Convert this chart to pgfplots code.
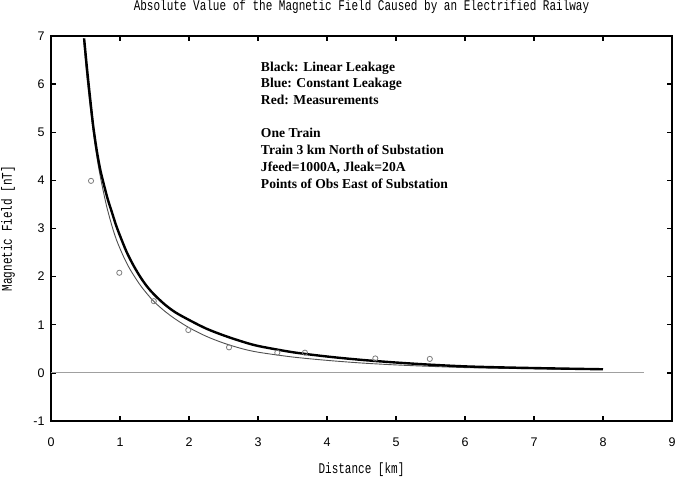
\documentclass[border=0pt]{standalone}
\usepackage{fontspec}
\setmainfont{Liberation Serif}
\setsansfont{Liberation Sans}
\setmonofont{Liberation Mono}
\usepackage{pgfplots}
\pgfplotsset{compat=1.18}
\definecolor{zeroline}{RGB}{160,160,160}
\definecolor{constleak}{RGB}{80,80,80}
\definecolor{meas}{RGB}{125,125,125}

\begin{document}
\begin{tikzpicture}
\begin{axis}[
  scale only axis, width=621pt, height=385pt,
  xmin=0, xmax=9, ymin=-1, ymax=7,
  xtick={0,...,9}, ytick={-1,...,7},
  tick align=inside, major tick length=5pt,
  axis line style={line width=1.8pt},
  every tick/.style={black, line width=1.3pt},
  tick label style={font=\sffamily\fontsize{12.5}{12.5}\selectfont},
  /pgf/number format/assume math mode=true,
  xticklabel style={yshift=-13pt},
  yticklabel style={xshift=-3pt},
  clip=false,
]
\coordinate (sw) at (rel axis cs:0,0);
% zero line
\addplot[zeroline, line width=0.8pt] coordinates {(0,0) (8.6,0)};
% constant leakage (thin)
\addplot[constleak, line width=0.9pt, smooth] coordinates {
  (0.47,6.95) (0.52,6.15) (0.57,5.50) (0.62,4.92) (0.67,4.44) (0.72,4.04)
  (0.80,3.50) (0.88,3.07) (0.95,2.76) (1.05,2.42) (1.15,2.14) (1.29,1.83)
  (1.40,1.63) (1.50,1.47) (1.65,1.28) (1.80,1.12) (2.00,0.94) (2.25,0.76)
  (2.50,0.62) (2.75,0.51) (3.00,0.43) (3.50,0.33) (4.00,0.26) (4.50,0.205)
  (5.00,0.165) (5.50,0.135) (6.00,0.11) (6.50,0.095) (7.00,0.085) (7.45,0.075)};
% linear leakage (thick)
\addplot[black, line width=2.4pt, smooth] coordinates {
  (0.48,6.95) (0.52,6.35) (0.56,5.80) (0.61,5.15) (0.66,4.65) (0.71,4.25)
  (0.76,3.95) (0.82,3.62) (0.88,3.35) (0.94,3.08) (1.00,2.85) (1.10,2.50)
  (1.20,2.22) (1.30,1.98) (1.40,1.78) (1.50,1.62) (1.65,1.42) (1.80,1.26)
  (2.00,1.10) (2.25,0.92) (2.50,0.78) (2.75,0.66) (3.00,0.56) (3.50,0.43)
  (4.00,0.34) (4.50,0.27) (5.00,0.215) (5.50,0.17) (6.00,0.135) (6.50,0.115)
  (7.00,0.10) (7.50,0.087) (8.00,0.075)};
% measurements
\addplot[only marks, mark=o, mark size=2.6pt, meas, line width=0.8pt] coordinates {
  (0.58,3.99) (0.99,2.08) (1.49,1.49) (1.99,0.89) (2.58,0.53)
  (3.28,0.42) (3.68,0.42) (4.70,0.30) (5.49,0.29)};
% annotation text
\node[anchor=north west, align=left, inner sep=0pt,
      font=\bfseries\fontsize{13.6}{16.7}\selectfont]
  at (axis cs:3.04,6.47) {Black: Linear Leakage\\
  Blue: Constant Leakage\\
  Red: Measurements\\[16.7pt]
  One Train\\
  Train 3 km North of Substation\\
  Jfeed=1000A, Jleak=20A\\
  Points of Obs East of Substation};
% title and axis labels
\node[font=\ttfamily\fontsize{11}{11}\selectfont, yscale=1.35] at ([yshift=29pt]rel axis cs:0.5,1)
  {Absolute Value of the Magnetic Field Caused by an Electrified Railway};
\node[font=\ttfamily\fontsize{11}{11}\selectfont, yscale=1.35] at ([yshift=-49pt]rel axis cs:0.5,0)
  {Distance [km]};
\node[font=\ttfamily\fontsize{11}{11}\selectfont, rotate=90, yscale=1.35] at ([xshift=-43pt]rel axis cs:0,0.5)
  {Magnetic Field [nT]};
\end{axis}
\pgfresetboundingbox
\path (sw) ++(-51pt,-57pt) rectangle ++(677pt,478pt);
\end{tikzpicture}
\end{document}
